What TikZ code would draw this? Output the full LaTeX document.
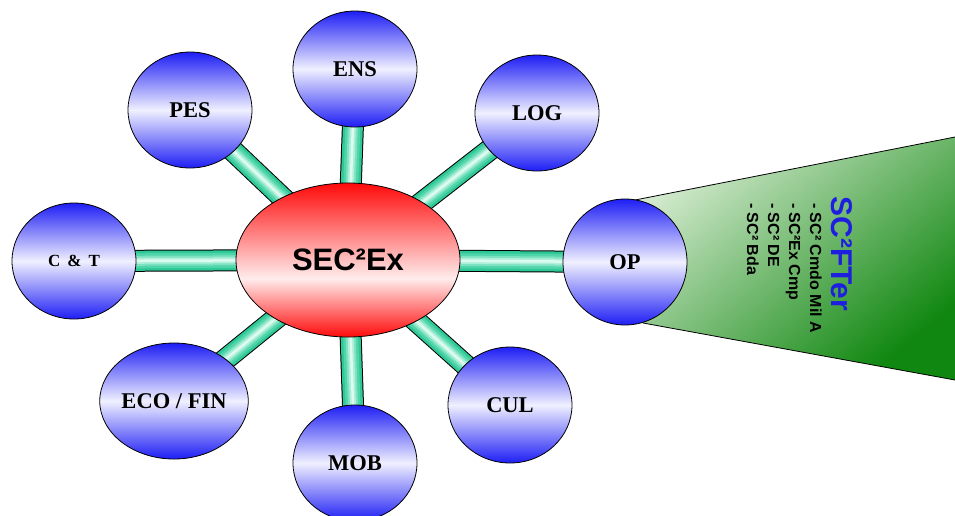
\documentclass[tikz,border=0pt]{standalone}
\usepackage{fontspec}
\setmainfont{Liberation Serif}
\newfontfamily\arialfont{Liberation Sans}
\usetikzlibrary{shapes.geometric,backgrounds}

\definecolor{bub}{RGB}{30,30,245}
\definecolor{bubmid}{RGB}{240,240,255}
\definecolor{myred}{RGB}{255,10,10}
\definecolor{mypink}{RGB}{255,236,236}
\definecolor{tealA}{RGB}{45,200,150}
\definecolor{tealB}{RGB}{80,212,170}
\definecolor{tealC}{RGB}{125,226,192}
\definecolor{tealD}{RGB}{175,240,218}
\definecolor{tealE}{RGB}{220,250,238}
\definecolor{grlight}{RGB}{215,236,210}
\definecolor{grmid}{RGB}{110,188,105}
\definecolor{grdark}{RGB}{16,135,16}
\definecolor{titleblue}{RGB}{30,30,225}

\pgfdeclareverticalshading{redball}{100bp}{color(0bp)=(myred); color(25bp)=(myred); color(44bp)=(mypink); color(75bp)=(myred); color(100bp)=(myred)}

\tikzset{
  bubble/.style={ellipse, draw=black, line width=0.8pt, minimum width=124pt, minimum height=116pt, inner sep=0pt,
    top color=bub, bottom color=bub, middle color=bubmid, font=\fontsize{22.5}{24}\selectfont\bfseries},
  hub/.style={ellipse, draw=black, line width=0.8pt, minimum width=224pt, minimum height=154pt, inner sep=0pt,
    shading=redball, font=\arialfont\bfseries\fontsize{31}{34}\selectfont},
  barout/.style={line width=22pt, draw=black},
  barA/.style={line width=20pt, draw=tealA},
  barB/.style={line width=15pt, draw=tealB},
  barC/.style={line width=10pt, draw=tealC},
  barD/.style={line width=6pt, draw=tealD},
  barE/.style={line width=2.5pt, draw=tealE},
}
\newcommand\linkbar[2]{%
  \draw[barout] (#1.center) -- (#2.center);
  \draw[barA] (#1.center) -- (#2.center);
  \draw[barB] (#1.center) -- (#2.center);
  \draw[barC] (#1.center) -- (#2.center);
  \draw[barD] (#1.center) -- (#2.center);
  \draw[barE] (#1.center) -- (#2.center);
}

\begin{document}
\begin{tikzpicture}[x=1pt,y=-1pt]
\useasboundingbox (0,0) rectangle (955,515);

% fan shape behind OP
\shade[shading=axis, top color=grlight, middle color=grmid, bottom color=grdark, shading angle=40]
  (625,200) -- (635,200) -- (955,137) -- (955,380) -- (643,323) -- (625,323) -- cycle;
\draw[line width=0.8pt] (635,200) -- (955,137);
\draw[line width=0.8pt] (643,323) -- (955,380);

\node[hub] (hub) at (348,260) {SEC²Ex};
\node[bubble] (ens) at (355,69) {ENS};
\node[bubble] (pes) at (190,110) {PES};
\node[bubble] (log) at (537,113) {LOG};
\node[bubble, font=\fontsize{17}{19}\selectfont\bfseries] (ct) at (74,261) {C\hspace{7pt}\&\hspace{7pt}T};
\node[bubble, minimum height=126pt] (op) at (625,262) {OP};
\node[bubble] (eco) at (174,401) {ECO / FIN};
\node[bubble] (mob) at (355,463) {MOB};
\node[bubble] (cul) at (510,405) {CUL};

\begin{pgfonlayer}{background}
  \linkbar{hub}{ens}
  \linkbar{hub}{pes}
  \linkbar{hub}{log}
  \linkbar{hub}{ct}
  \linkbar{hub}{op}
  \linkbar{hub}{eco}
  \linkbar{hub}{mob}
  \linkbar{hub}{cul}
\end{pgfonlayer}

\node[rotate=-90, text=titleblue, font=\arialfont\bfseries\fontsize{30}{32}\selectfont, inner sep=0pt] (title) at (842,254) {SC²FTer};
\node[rotate=-90, anchor=north west, align=left, inner sep=0pt, font=\arialfont\bfseries\fontsize{16}{21}\selectfont] (list) at (822,203)
  {- SC² Cmdo Mil A\\- SC²Ex Cmp\\- SC² DE\\- SC² Bda};
\end{tikzpicture}
\end{document}
